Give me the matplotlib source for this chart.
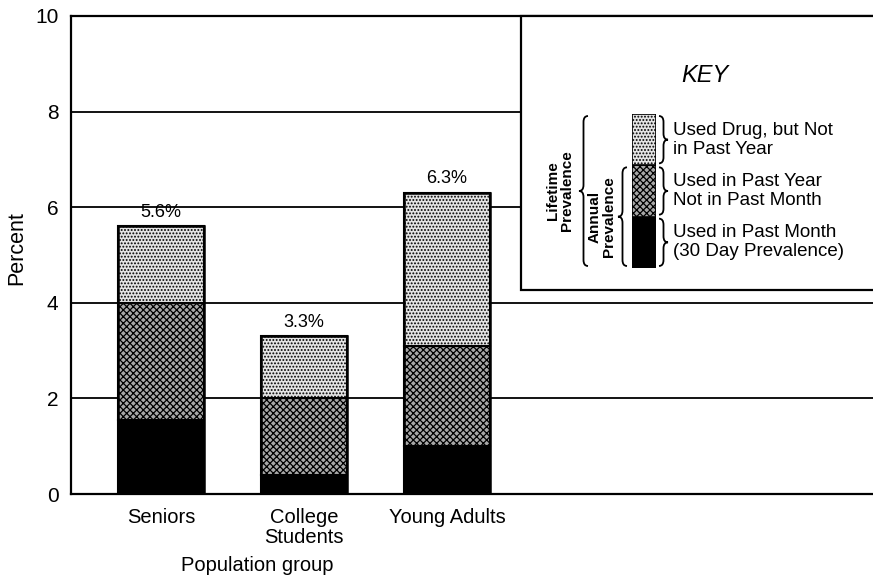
import matplotlib.pyplot as plt
from matplotlib.path import Path
from matplotlib.patches import PathPatch, Rectangle

plt.rcParams['font.family'] = ['Liberation Sans', 'DejaVu Sans']
plt.rcParams['hatch.linewidth'] = 0.9

# data
groups = ['Seniors', 'College\nStudents', 'Young Adults']
past_month = [1.55, 0.4, 1.0]       # 30 day prevalence
annual = [4.0, 2.0, 3.1]            # annual prevalence
lifetime = [5.6, 3.3, 6.3]          # lifetime prevalence
total_labels = ['5.6%', '3.3%', '6.3%']
key_labels = ['Used Drug, but Not\nin Past Year',
              'Used in Past Year\nNot in Past Month',
              'Used in Past Month\n(30 Day Prevalence)']
key_sizes = [1.0, 1.0, 1.0]  # bottom -> top in the key bar

W, H = 873, 584
fig = plt.figure(figsize=(W / 100, H / 100), dpi=100)

# main axes, in pixel placement
x0, y_top, y_bot = 71, 16, 494
ax = fig.add_axes([x0 / W, (H - y_bot) / H, (W - x0) / W, (y_bot - y_top) / H])

x = list(range(len(groups)))
bw = 0.6
mid = [a - m for a, m in zip(annual, past_month)]
top = [l - a for l, a in zip(lifetime, annual)]

ax.bar(x, past_month, bw, color='black', edgecolor='black', lw=1.5, zorder=3)
ax.bar(x, mid, bw, bottom=past_month, color='#a8a8a8', edgecolor='black',
       hatch='xxxxx', lw=1.5, zorder=3)
ax.bar(x, top, bw, bottom=annual, color='#e4e4e4', edgecolor='black',
       hatch='.....', lw=1.5, zorder=3)
# outline
ax.bar(x, lifetime, bw, fill=False, edgecolor='black', lw=1.8, zorder=4)

for xi, v, t in zip(x, lifetime, total_labels):
    ax.text(xi, v + 0.12, t, ha='center', va='bottom', fontsize=13)

ax.set_xlim(-0.63, 4.98)
ax.set_ylim(0, 10)
ax.set_yticks([0, 2, 4, 6, 8, 10])
ax.set_xticks(x)
ax.set_xticklabels(groups, fontsize=14.5, linespacing=1.05)
ax.tick_params(axis='both', length=0)
ax.tick_params(axis='y', pad=9, labelsize=15)
ax.tick_params(axis='x', pad=10)
ax.grid(axis='y', color='black', lw=1.3, zorder=1)
ax.set_axisbelow(True)
ax.spines['right'].set_visible(False)
for s in ['left', 'bottom', 'top']:
    ax.spines[s].set_linewidth(1.6)
ax.set_ylabel('Percent', fontsize=15.5)
ax.yaxis.set_label_coords((27 - x0) / (W - x0), 0.515)
ax.set_xlabel('Population group', fontsize=14.5)
ax.xaxis.set_label_coords((257 - x0) / (W - x0), -0.13)

# overlay in pixel coords for the key
ov = fig.add_axes([0, 0, 1, 1], facecolor='none')
ov.set_xlim(0, W)
ov.set_ylim(H, 0)
ov.axis('off')
ov.add_patch(Rectangle((521, 16), W - 521 + 5, 290 - 16, facecolor='white',
                       edgecolor='black', lw=1.6, zorder=2))
ov.text(705, 75, 'KEY', style='italic', fontsize=17, ha='center', va='center', zorder=3)


def brace(xb, ya, yb, w):
    # curly brace between ya (top) and yb (bottom), tip toward +w
    ym = (ya + yb) / 2
    xm = xb + w / 2
    d = min(6, (yb - ya) / 6)
    verts = [(xb, ya), (xm, ya), (xm, ya + d),
             (xm, ym - d), (xm, ym), (xb + w, ym),
             (xm, ym), (xm, ym + d),
             (xm, yb - d), (xm, yb), (xb, yb)]
    codes = [Path.MOVETO, Path.CURVE3, Path.CURVE3,
             Path.LINETO, Path.CURVE3, Path.CURVE3,
             Path.CURVE3, Path.CURVE3,
             Path.LINETO, Path.CURVE3, Path.CURVE3]
    ov.add_patch(PathPatch(Path(verts, codes), fill=False, lw=1.3,
                           edgecolor='black', zorder=3))


# key bar
kb_top, kb_bot = 114, 268
kax = fig.add_axes([632 / W, (H - kb_bot) / H, 24 / W, (kb_bot - kb_top) / H])
kax.bar([0], [key_sizes[0]], 1, color='black', edgecolor='black', lw=1.2)
kax.bar([0], [key_sizes[1]], 1, bottom=key_sizes[0], color='#a8a8a8',
        edgecolor='black', hatch='xxxxx', lw=1.2)
kax.bar([0], [key_sizes[2]], 1, bottom=key_sizes[0] + key_sizes[1], color='#e4e4e4',
        edgecolor='black', hatch='.....', lw=1.2)
kax.set_xlim(-0.5, 0.5)
kax.set_ylim(0, sum(key_sizes))
kax.axis('off')

tot = sum(key_sizes)
px = (kb_bot - kb_top) / tot
bounds = [kb_bot - px * sum(key_sizes[:i]) for i in range(4)]  # bottom->top edges
for i, lab in enumerate(key_labels):
    seg = 2 - i
    yb, ya = bounds[seg], bounds[seg + 1]
    brace(659, ya + 2, yb - 2, 9)
    ov.text(673, (ya + yb) / 2, lab, fontsize=13.5, ha='left', va='center',
            linespacing=1.15, zorder=3)

brace(588, kb_top + 2, kb_bot - 2, -9)
brace(627, bounds[2] + 2, kb_bot - 2, -9)
ov.text(560, (kb_top + kb_bot) / 2, 'Lifetime\nPrevalence', rotation=90, fontsize=11,
        fontweight='bold', ha='center', va='center', linespacing=1.0, zorder=3)
ov.text(602, (bounds[2] + kb_bot) / 2, 'Annual\nPrevalence', rotation=90, fontsize=11,
        fontweight='bold', ha='center', va='center', linespacing=1.0, zorder=3)

fig.savefig('out.png', dpi=100)
